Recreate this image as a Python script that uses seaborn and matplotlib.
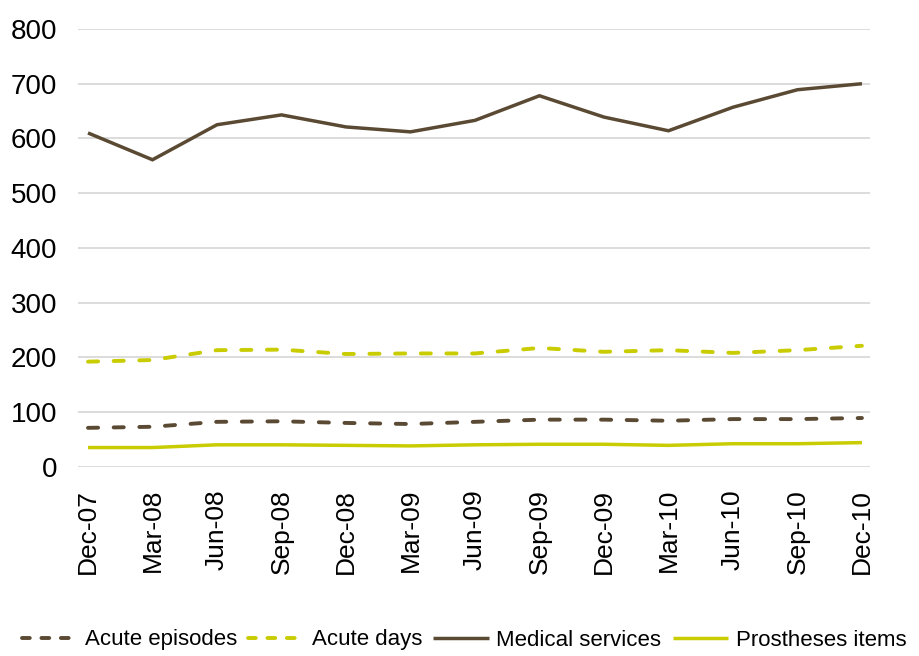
import matplotlib
matplotlib.use("Agg")
import matplotlib.pyplot as plt
from matplotlib import font_manager
import seaborn as sns
import pandas as pd

quarters = ["Dec-07", "Mar-08", "Jun-08", "Sep-08", "Dec-08", "Mar-09", "Jun-09",
            "Sep-09", "Dec-09", "Mar-10", "Jun-10", "Sep-10", "Dec-10"]
acute_episodes = [71, 73, 82, 83, 80, 78, 82, 86, 86, 84, 87, 87, 89]
acute_days = [192, 195, 213, 214, 206, 207, 207, 217, 210, 213, 208, 213, 221]
medical_services = [610, 561, 625, 643, 621, 612, 633, 678, 639, 614, 657, 689, 700]
prostheses_items = [35, 35, 40, 40, 39, 38, 40, 41, 41, 39, 42, 42, 44]
y_ticks = [0, 100, 200, 300, 400, 500, 600, 700, 800]

brown = "#5b4a33"
lime = "#c8cc00"

sns.set_theme(style="white")
available = {f.name for f in font_manager.fontManager.ttflist}
family = "Liberation Sans Narrow" if "Liberation Sans Narrow" in available else "Liberation Sans"
plt.rcParams["font.family"] = [family, "DejaVu Sans"]
plt.rcParams["text.color"] = "black"

fig = plt.figure(figsize=(9.19, 6.56), dpi=100)
ax = fig.add_axes([78 / 919, 1 - 466.7 / 656, (870 - 78) / 919, (466.7 - 29) / 656])

series = [
    ("Acute episodes", acute_episodes, brown, (2.6, 4.0)),
    ("Acute days", acute_days, lime, (2.6, 4.0)),
    ("Medical services", medical_services, brown, None),
    ("Prostheses items", prostheses_items, lime, None),
]

x = list(range(len(quarters)))
for name, values, color, dash in series:
    df = pd.DataFrame({"x": x, "y": values})
    sns.lineplot(data=df, x="x", y="y", ax=ax, color=color,
                 linewidth=2.8 if dash else 2.5, label=name, sort=False)
    ln = ax.get_lines()[-1]
    if dash is not None:
        ln.set_dashes(dash)
        ln.set_dash_capstyle("round")
    else:
        ln.set_solid_capstyle("butt")
        ln.set_solid_joinstyle("miter")

ax.set_xlim(-0.155, len(quarters) - 1 + 0.125)
ax.set_ylim(0, 800)
ax.set_yticks(y_ticks)
ax.set_yticklabels([str(v) for v in y_ticks], fontsize=20)
ax.set_xticks(x)
ax.set_xticklabels(quarters, rotation=90, fontsize=19)
ax.set_xlabel("")
ax.set_ylabel("")
ax.tick_params(axis="both", length=0, colors="black")
ax.tick_params(axis="y", pad=15)
ax.tick_params(axis="x", pad=16)
ax.grid(axis="y", color="#d9d9d9", linewidth=1.3)
ax.set_axisbelow(True)
for s in ax.spines.values():
    s.set_visible(False)

leg = ax.legend(loc="center", ncol=4, frameon=False, fontsize=16,
                handlelength=2.5, handletextpad=0.35, columnspacing=0.5,
                bbox_to_anchor=(464 / 919, 1 - 640 / 656),
                bbox_transform=fig.transFigure)
for t in leg.get_texts():
    t.set_color("black")
# three short dashes per dashed legend handle
for h in leg.get_lines():
    if h.get_linestyle() != "-":
        h.set_dashes((2.0, 3.0))
        h.set_dash_capstyle("round")

fig.savefig("out.png", dpi=100)
